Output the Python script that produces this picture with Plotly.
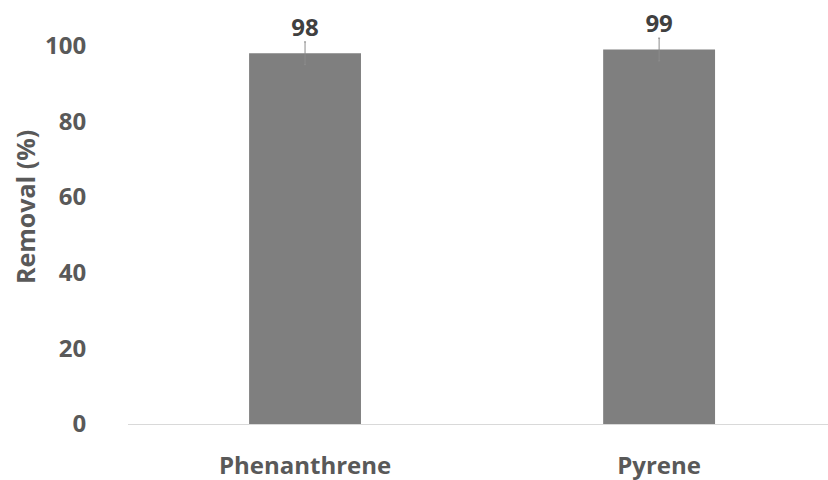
import plotly.graph_objects as go

categories = ["Phenanthrene", "Pyrene"]
removal = [98, 99]
errors = [3, 3]
value_labels = ["98", "99"]
y_ticks = [0, 20, 40, 60, 80, 100]
y_title = "Removal (%)"

font_family = "Open Sans, Noto Sans, sans-serif"

fig = go.Figure()
fig.add_trace(go.Bar(
    x=[0, 1], y=removal,
    marker=dict(color="#7f7f7f", line=dict(width=0)),
    width=0.316,
    error_y=dict(type="data", array=errors, visible=True, color="#8c8c8c",
                 thickness=1, width=1),
    showlegend=False, hoverinfo="skip",
))
fig.add_trace(go.Scatter(
    x=[0, 1], y=[v + e for v, e in zip(removal, errors)],
    mode="text", text=value_labels, textposition="top center",
    textfont=dict(family=font_family, size=24, color="#404040", weight="bold"),
    showlegend=False, hoverinfo="skip", cliponaxis=False,
))

fig.update_layout(
    width=828, height=480,
    margin=dict(l=128, r=0, t=23, b=56),
    plot_bgcolor="white", paper_bgcolor="white",
    font=dict(family=font_family, color="#595959"),
    annotations=[dict(
        text=y_title, textangle=-90, showarrow=False,
        xref="paper", yref="paper", x=(25 - 128) / 700, y=(424 - 207) / 401,
        xanchor="center", yanchor="middle",
        font=dict(family=font_family, size=25, color="#595959", weight="bold"),
    )],
)
fig.update_xaxes(
    range=[-0.5, 1.477], tickvals=[0, 1], ticktext=categories,
    automargin=False,
    showline=True, linecolor="#d9d9d9", linewidth=1,
    showgrid=False, zeroline=False,
    ticks="outside", ticklen=20, tickcolor="rgba(0,0,0,0)",
    tickfont=dict(family=font_family, size=24, color="#595959", weight="bold"),
)
fig.update_yaxes(
    range=[0, 106], tickvals=y_ticks, automargin=False,
    showline=False, showgrid=False, zeroline=False,
    ticks="outside", ticklen=36, tickcolor="rgba(0,0,0,0)",
    tickfont=dict(family=font_family, size=24, color="#595959", weight="bold"),
)

fig.write_html("out.html", config={"displayModeBar": False},
               post_script="document.body.style.margin='0';")
